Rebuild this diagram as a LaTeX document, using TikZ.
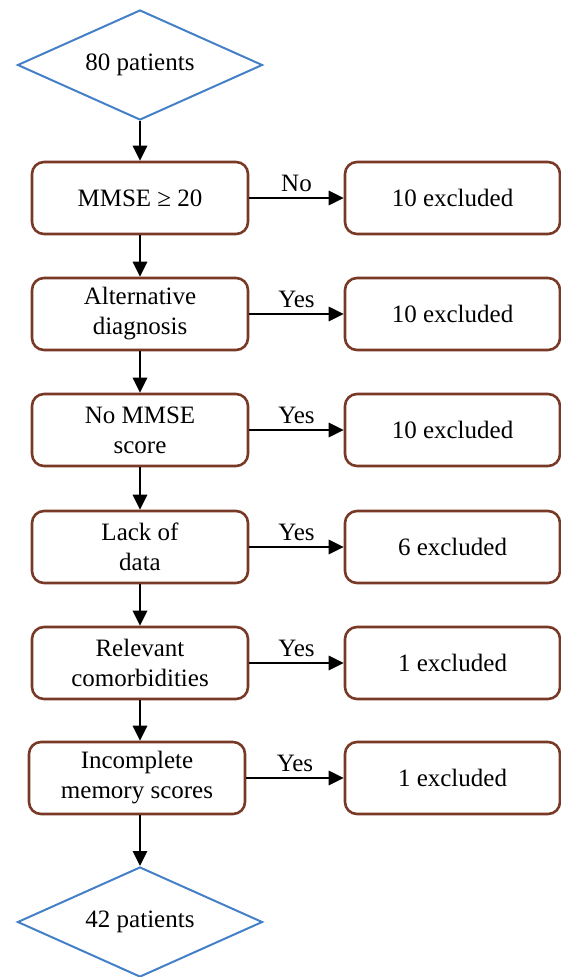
\documentclass[tikz,border=0pt]{standalone}
\usepackage{fontspec}
\setmainfont{Liberation Serif}
\newfontfamily\tnr{Liberation Serif}
\usetikzlibrary{shapes.geometric,arrows.meta}
\definecolor{boxbrown}{RGB}{120,58,38}
\definecolor{diablue}{RGB}{68,128,200}
\begin{document}
\begin{tikzpicture}[x=1pt,y=-1pt,
  every node/.style={font=\tnr\fontsize{25}{30}\selectfont},
  dia/.style={diamond, aspect=2.227, draw=diablue, line width=2pt, minimum width=245pt, minimum height=110pt, inner sep=0pt},
  lbox/.style={draw=boxbrown, line width=2.6pt, rounded corners=12pt, minimum width=216pt, minimum height=72pt, align=center, inner sep=0pt},
  rbox/.style={draw=boxbrown, line width=2.6pt, rounded corners=12pt, minimum width=215pt, minimum height=72pt, align=center, inner sep=0pt},
  arr/.style={line width=2.8pt, -{Triangle[length=15pt,width=14pt]}},
  lab/.style={midway, above=5pt, inner sep=0pt}
]
\useasboundingbox (0,0) rectangle (561,977);
\node[dia] (top) at (140,65) {80 patients};
\node[lbox] (b1) at (140,198) {MMSE ≥ 20};
\node[lbox] (b2) at (140,314) {Alternative\\diagnosis};
\node[lbox] (b3) at (140,430) {No MMSE\\score};
\node[lbox] (b4) at (140,547) {Lack of\\data};
\node[lbox] (b5) at (140,663) {Relevant\\comorbidities};
\node[lbox] (b6) at (137,778) {Incomplete\\memory scores};
\node[dia] (bot) at (140,922) {42 patients};
\node[rbox] (e1) at (452.5,198) {10 excluded};
\node[rbox] (e2) at (452.5,314) {10 excluded};
\node[rbox] (e3) at (452.5,430) {10 excluded};
\node[rbox] (e4) at (452.5,547) {6 excluded};
\node[rbox] (e5) at (452.5,663) {1 excluded};
\node[rbox] (e6) at (452.5,778) {1 excluded};
\draw[arr] (top.south) -- (b1.north);
\draw[arr] (b1.south) -- (b2.north);
\draw[arr] (b2.south) -- (b3.north);
\draw[arr] (b3.south) -- (b4.north);
\draw[arr] (b4.south) -- (b5.north);
\draw[arr] (b5.south) -- (b6.north -| b5.south);
\draw[arr] (b6.south -| bot.north) -- (bot.north);
\draw[arr] (b1.east) -- node[lab]{No} (e1.west);
\draw[arr] (b2.east) -- node[lab]{Yes} (e2.west);
\draw[arr] (b3.east) -- node[lab]{Yes} (e3.west);
\draw[arr] (b4.east) -- node[lab]{Yes} (e4.west);
\draw[arr] (b5.east) -- node[lab]{Yes} (e5.west);
\draw[arr] (b6.east) -- node[lab]{Yes} (e6.west);
\end{tikzpicture}
\end{document}
